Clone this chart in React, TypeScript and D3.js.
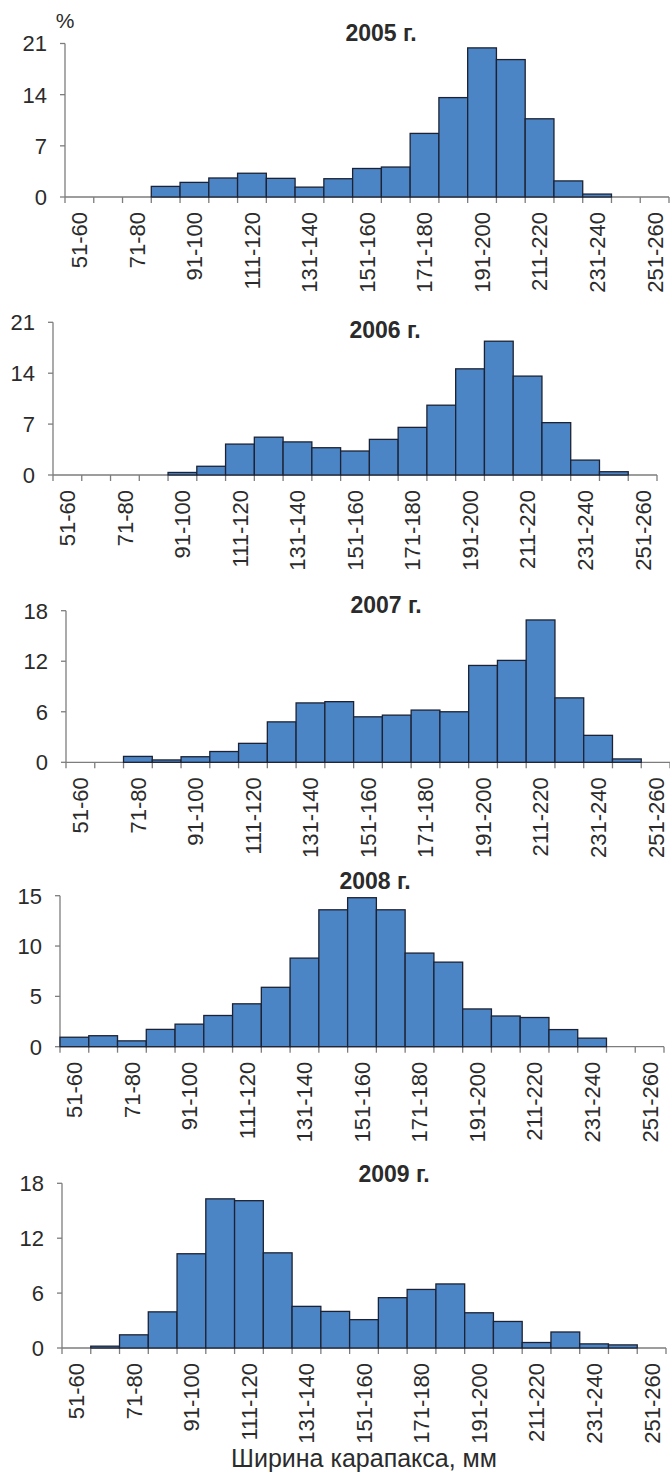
import React from "react";
import * as d3 from "d3";

// Carapace width classes, mm
const categories = [
  "51-60", "61-70", "71-80", "81-90", "91-100", "101-110", "111-120",
  "121-130", "131-140", "141-150", "151-160", "161-170", "171-180",
  "181-190", "191-200", "201-210", "211-220", "221-230", "231-240",
  "241-250", "251-260",
];

const years = ["2005 г.", "2006 г.", "2007 г.", "2008 г.", "2009 г."];

// Share of each width class, %
const share2005 = [0, 0, 0, 1.45, 2.0, 2.6, 3.25, 2.55, 1.35, 2.5, 3.9, 4.1, 8.7, 13.6, 20.4, 18.8, 10.7, 2.2, 0.4, 0, 0];
const share2006 = [0, 0, 0, 0, 0.35, 1.2, 4.25, 5.2, 4.55, 3.75, 3.3, 4.9, 6.55, 9.6, 14.6, 18.4, 13.6, 7.2, 2.05, 0.45, 0];
const share2007 = [0, 0, 0.7, 0.28, 0.66, 1.28, 2.25, 4.8, 7.05, 7.2, 5.4, 5.6, 6.2, 6.0, 11.5, 12.1, 16.9, 7.65, 3.2, 0.4, 0];
const share2008 = [0.94, 1.09, 0.58, 1.72, 2.24, 3.1, 4.26, 5.9, 8.8, 13.6, 14.8, 13.6, 9.3, 8.4, 3.75, 3.05, 2.9, 1.7, 0.85, 0, 0];
const share2009 = [0, 0.2, 1.44, 3.95, 10.3, 16.3, 16.1, 10.4, 4.55, 4.0, 3.1, 5.5, 6.4, 7.0, 3.85, 2.9, 0.6, 1.75, 0.45, 0.34, 0];

// Value-axis ticks per year
const ticks2005 = [0, 7, 14, 21];
const ticks2006 = [0, 7, 14, 21];
const ticks2007 = [0, 6, 12, 18];
const ticks2008 = [0, 5, 10, 15];
const ticks2009 = [0, 6, 12, 18];

const series = [share2005, share2006, share2007, share2008, share2009];
const tickSets = [ticks2005, ticks2006, ticks2007, ticks2008, ticks2009];

// Placement of each small histogram on the page
const layout = [
  { x0: 65, yTop: 43.5, yBase: 197, titleX: 381, titleY: 41 },
  { x0: 53, yTop: 322.3, yBase: 475, titleX: 385, titleY: 338 },
  { x0: 66, yTop: 610.7, yBase: 762.3, titleX: 386, titleY: 613 },
  { x0: 60, yTop: 895.7, yBase: 1046.7, titleX: 375, titleY: 889 },
  { x0: 62, yTop: 1183.3, yBase: 1348, titleX: 394, titleY: 1182 },
];

const PLOT_W = 604;
const FONT = "'Liberation Sans', Arial, Helvetica, sans-serif";
const TEXT = "#2b2b2b";
const AXIS = "#7d7d7d";
const BAR_FILL = "#4c85c5";
const BAR_STROKE = "#1c2233";

function Histogram({ idx }: { idx: number }) {
  const values = series[idx];
  const ticks = tickSets[idx];
  const L = layout[idx];

  const x = d3
    .scaleBand<string>()
    .domain(categories)
    .range([L.x0, L.x0 + PLOT_W])
    .paddingInner(0)
    .paddingOuter(0);
  const y = d3
    .scaleLinear()
    .domain([0, d3.max(ticks) as number])
    .range([L.yBase, L.yTop]);

  const bw = x.bandwidth();
  const boundaries = d3.range(categories.length + 1).map((i) => L.x0 + i * bw);

  return (
    <g>
      <text
        x={L.titleX}
        y={L.titleY}
        textAnchor="middle"
        fontFamily={FONT}
        fontWeight="bold"
        fontSize={23}
        fill={TEXT}
      >
        {years[idx]}
      </text>

      {/* value axis */}
      <line x1={L.x0} x2={L.x0} y1={y(0)} y2={y(d3.max(ticks) as number)} stroke={AXIS} strokeWidth={1.3} />
      {ticks.map((t) => (
        <g key={t}>
          <line x1={L.x0 - 5} x2={L.x0} y1={y(t)} y2={y(t)} stroke={AXIS} strokeWidth={1.3} />
          <text
            x={L.x0 - 18}
            y={y(t)}
            dy="0.36em"
            textAnchor="end"
            fontFamily={FONT}
            fontSize={22}
            fill={TEXT}
          >
            {t}
          </text>
        </g>
      ))}

      {/* category axis */}
      <line x1={L.x0} x2={L.x0 + PLOT_W} y1={L.yBase} y2={L.yBase} stroke={AXIS} strokeWidth={1.3} />
      {boundaries.map((bx, i) => (
        <line key={i} x1={bx} x2={bx} y1={L.yBase} y2={L.yBase + 6} stroke={AXIS} strokeWidth={1.3} />
      ))}

      {/* bars */}
      {values.map((v, i) =>
        v > 0 ? (
          <rect
            key={categories[i]}
            x={x(categories[i]) as number}
            y={y(v)}
            width={bw}
            height={L.yBase - y(v)}
            fill={BAR_FILL}
            stroke={BAR_STROKE}
            strokeWidth={1.3}
          />
        ) : null
      )}

      {/* class labels, every second one */}
      {categories.map((c, i) =>
        i % 2 === 0 ? (
          <text
            key={c}
            transform={`translate(${(x(c) as number) + bw / 2},${L.yBase + 15}) rotate(-90)`}
            textAnchor="end"
            dy="0.36em"
            fontFamily={FONT}
            fontSize={22}
            fill={TEXT}
          >
            {c}
          </text>
        ) : null
      )}
    </g>
  );
}

export default function App() {
  return (
    <svg
      width={670}
      height={1474}
      viewBox="0 0 670 1474"
      style={{ position: "absolute", left: 0, top: 0, background: "#ffffff" }}
    >
      <rect x={0} y={0} width={670} height={1474} fill="#ffffff" />
      <text x={65} y={28} textAnchor="middle" fontFamily={FONT} fontSize={21} fill={TEXT}>
        %
      </text>
      {series.map((_, i) => (
        <Histogram key={years[i]} idx={i} />
      ))}
      <text x={364} y={1467} textAnchor="middle" fontFamily={FONT} fontSize={25} fill={TEXT}>
        Ширина карапакса, мм
      </text>
    </svg>
  );
}
